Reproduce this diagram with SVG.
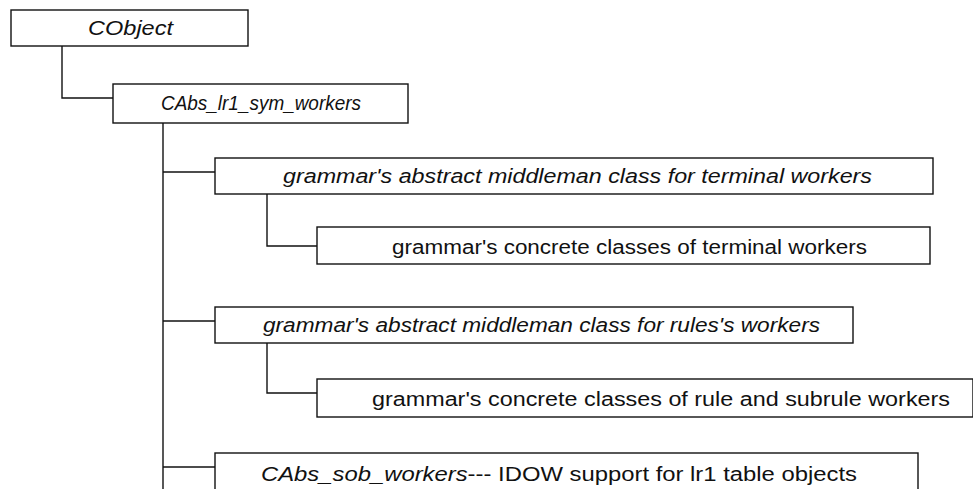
<svg xmlns="http://www.w3.org/2000/svg" width="973" height="489" viewBox="0 0 973 489">
<style>
.box{fill:#fff;stroke:#111;stroke-width:1.4}
.ln{fill:none;stroke:#111;stroke-width:1.4}
.t{font-family:"Liberation Sans",Arial,sans-serif;font-size:20px;fill:#111}
.i{font-style:italic}
</style>
<rect width="973" height="489" fill="#fff"/>
<g id="connectors">
<polyline class="ln" points="62,46 62,98 113,98"/>
<polyline class="ln" points="163,123 163,489"/>
<line class="ln" x1="163" y1="172" x2="215" y2="172"/>
<polyline class="ln" points="267,194 267,246 317,246"/>
<line class="ln" x1="163" y1="321" x2="215" y2="321"/>
<polyline class="ln" points="267,343 267,393 317,393"/>
<line class="ln" x1="163" y1="467" x2="215" y2="467"/>
</g>
<g id="cobject">
<rect class="box" x="11" y="10" width="237" height="36"/>
<text class="t i" x="88" y="35" textLength="85" lengthAdjust="spacingAndGlyphs">CObject</text>
</g>
<g id="cabs_lr1">
<rect class="box" x="113" y="84" width="295" height="39"/>
<text class="t i" x="161" y="110" textLength="200" lengthAdjust="spacingAndGlyphs">CAbs_lr1_sym_workers</text>
</g>
<g id="mid_terminal">
<rect class="box" x="215" y="158" width="718" height="36"/>
<text class="t i" x="283" y="183" textLength="589" lengthAdjust="spacingAndGlyphs">grammar's abstract middleman class for terminal workers</text>
</g>
<g id="conc_terminal">
<rect class="box" x="317" y="227" width="613" height="37"/>
<text class="t" x="392" y="254" textLength="475" lengthAdjust="spacingAndGlyphs">grammar's concrete classes of terminal workers</text>
</g>
<g id="mid_rules">
<rect class="box" x="215" y="307" width="638" height="36"/>
<text class="t i" x="263" y="332" textLength="557" lengthAdjust="spacingAndGlyphs">grammar's abstract middleman class for rules's workers</text>
</g>
<g id="conc_rules">
<rect class="box" x="317" y="379" width="656" height="38"/>
<text class="t" x="372" y="406" textLength="578" lengthAdjust="spacingAndGlyphs">grammar's concrete classes of rule and subrule workers</text>
</g>
<g id="cabs_sob">
<rect class="box" x="215" y="453" width="703" height="50"/>
<text class="t" x="261" y="481" textLength="596" lengthAdjust="spacingAndGlyphs"><tspan class="i">CAbs_sob_workers</tspan>--- IDOW support for lr1 table objects</text>
</g>
</svg>
